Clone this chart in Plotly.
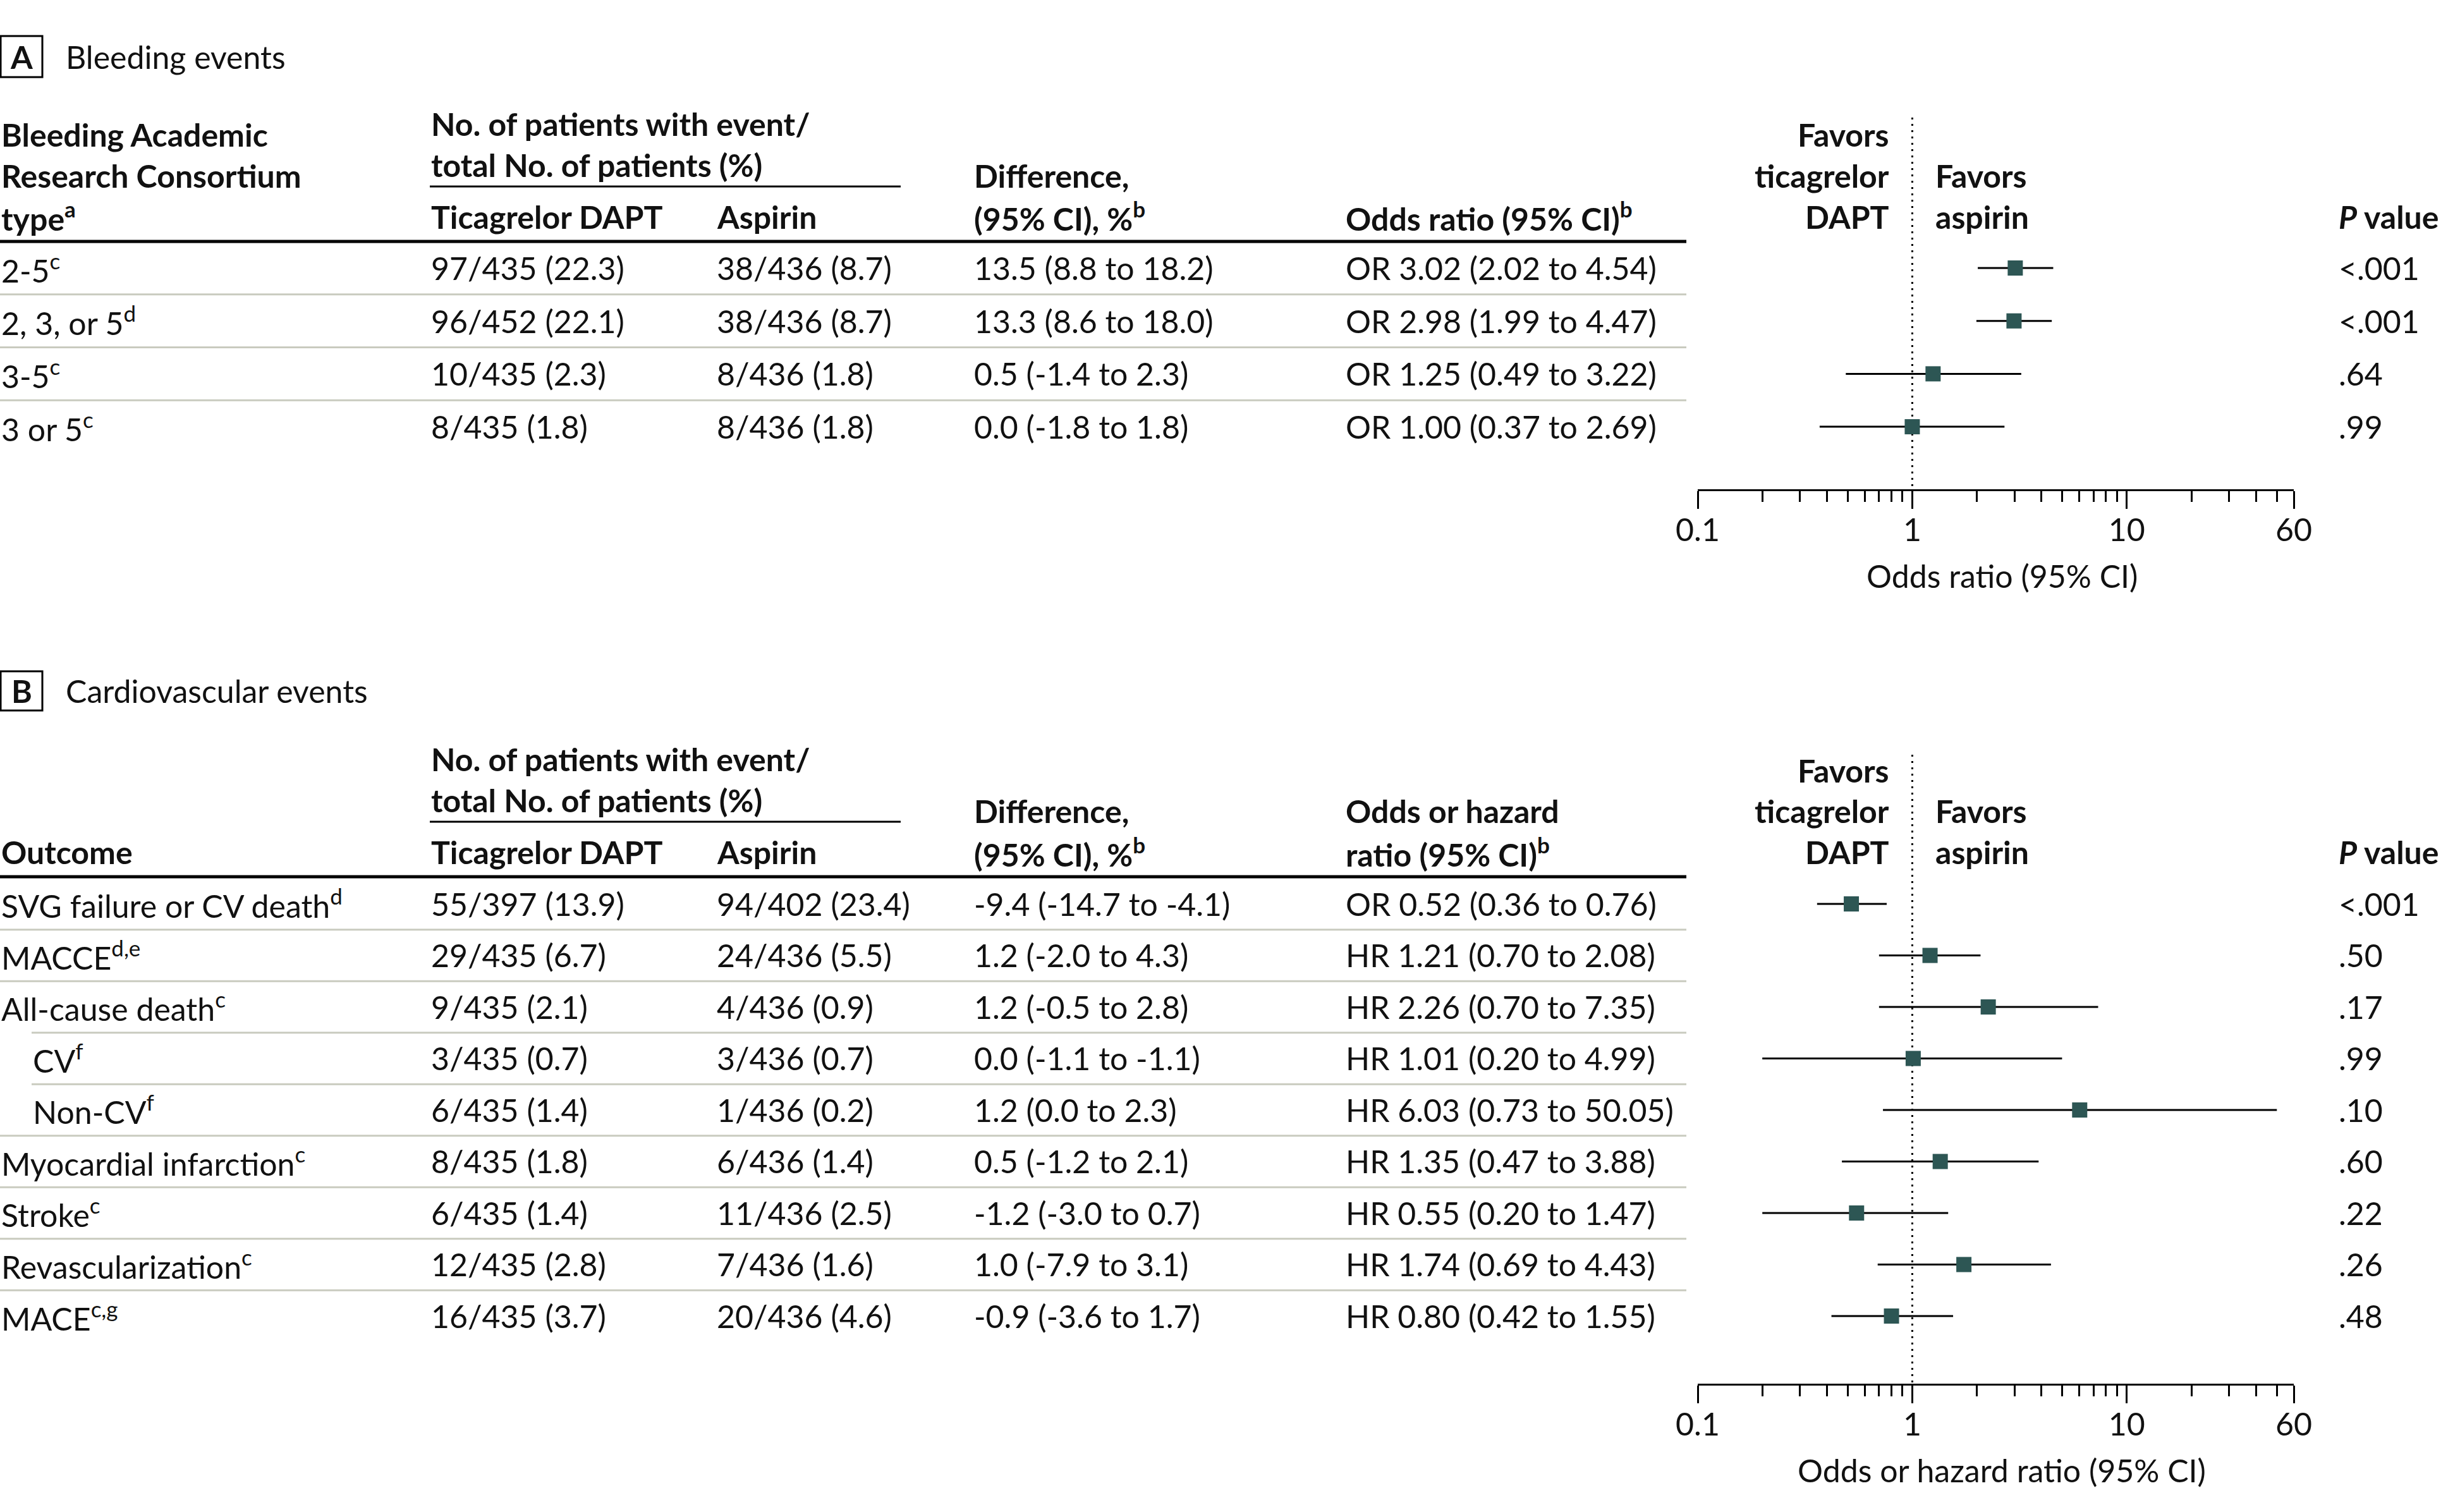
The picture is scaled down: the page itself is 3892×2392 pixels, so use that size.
import plotly.graph_objects as go

W, H = 3892, 2392
FONT = "Lato"
FS = 50
TXT = "#111111"
MARK = "#2d5654"
SEP = "#c9cbbf"

# ---------------- Data: Panel A (bleeding) ----------------
labels_a = ["2-5<sup>c</sup>", "2, 3, or 5<sup>d</sup>", "3-5<sup>c</sup>", "3 or 5<sup>c</sup>"]
indent_a = [0, 0, 0, 0]
tica_a = ["97/435 (22.3)", "96/452 (22.1)", "10/435 (2.3)", "8/435 (1.8)"]
asp_a = ["38/436 (8.7)", "38/436 (8.7)", "8/436 (1.8)", "8/436 (1.8)"]
diff_a = ["13.5 (8.8 to 18.2)", "13.3 (8.6 to 18.0)", "0.5 (-1.4 to 2.3)", "0.0 (-1.8 to 1.8)"]
type_a = ["OR", "OR", "OR", "OR"]
est_a = [3.02, 2.98, 1.25, 1.00]
lo_a = [2.02, 1.99, 0.49, 0.37]
hi_a = [4.54, 4.47, 3.22, 2.69]
p_a = ["<.001", "<.001", ".64", ".99"]

# ---------------- Data: Panel B (cardiovascular) ----------------
labels_b = ["SVG failure or CV death<sup>d</sup>", "MACCE<sup>d,e</sup>", "All-cause death<sup>c</sup>",
            "CV<sup>f</sup>", "Non-CV<sup>f</sup>", "Myocardial infarction<sup>c</sup>",
            "Stroke<sup>c</sup>", "Revascularization<sup>c</sup>", "MACE<sup>c,g</sup>"]
indent_b = [0, 0, 0, 1, 1, 0, 0, 0, 0]
tica_b = ["55/397 (13.9)", "29/435 (6.7)", "9/435 (2.1)", "3/435 (0.7)", "6/435 (1.4)",
          "8/435 (1.8)", "6/435 (1.4)", "12/435 (2.8)", "16/435 (3.7)"]
asp_b = ["94/402 (23.4)", "24/436 (5.5)", "4/436 (0.9)", "3/436 (0.7)", "1/436 (0.2)",
         "6/436 (1.4)", "11/436 (2.5)", "7/436 (1.6)", "20/436 (4.6)"]
diff_b = ["-9.4 (-14.7 to -4.1)", "1.2 (-2.0 to 4.3)", "1.2 (-0.5 to 2.8)", "0.0 (-1.1 to -1.1)",
          "1.2 (0.0 to 2.3)", "0.5 (-1.2 to 2.1)", "-1.2 (-3.0 to 0.7)", "1.0 (-7.9 to 3.1)",
          "-0.9 (-3.6 to 1.7)"]
type_b = ["OR", "HR", "HR", "HR", "HR", "HR", "HR", "HR", "HR"]
est_b = [0.52, 1.21, 2.26, 1.01, 6.03, 1.35, 0.55, 1.74, 0.80]
lo_b = [0.36, 0.70, 0.70, 0.20, 0.73, 0.47, 0.20, 0.69, 0.42]
hi_b = [0.76, 2.08, 7.35, 4.99, 50.05, 3.88, 1.47, 4.43, 1.55]
p_b = ["<.001", ".50", ".17", ".99", ".10", ".60", ".22", ".26", ".48"]

# axis ticks
tick_vals = [0.1, 1, 10, 60]
tick_text = ["0.1", "1", "10", "60"]
minor_vals = [0.2, 0.3, 0.4, 0.5, 0.6, 0.7, 0.8, 0.9, 2, 3, 4, 5, 6, 7, 8, 9, 20, 30, 40, 50]
ref_value = 1

# ---------------- Layout geometry (pixels) ----------------
def px(x):
    return x / W

def py(y):
    return 1 - y / H

COL_LABEL = 0
COL_INDENT = 50
COL_TICA = 680
COL_ASP = 1132
COL_DIFF = 1539
COL_RATIO = 2127
COL_FAV_L = 2991
COL_FAV_R = 3060
COL_P = 3698
TABLE_RIGHT = 2668
AX_LEFT, AX_RIGHT = 2686, 3629
AX_CENTER = 3167

panels = [
    dict(key="A", title="Bleeding events", box=(1, 57, 67, 122), row0=424, step=83.7,
         dot_top=186, axis_y=774, axis_title="Odds ratio (95% CI)", axis_title_y=911,
         rule=382, underline=295, xa="x", ya="y",
         labels=labels_a, indent=indent_a, tica=tica_a, asp=asp_a, diff=diff_a,
         typ=type_a, est=est_a, lo=lo_a, hi=hi_a, p=p_a,
         header=[("Bleeding Academic", COL_LABEL, 213, "left"),
                 ("Research Consortium", COL_LABEL, 278, "left"),
                 ("type<sup>a</sup>", COL_LABEL, 343, "left"),
                 ("No. of patients with event/", COL_TICA, 196, "left"),
                 ("total No. of patients (%)", COL_TICA, 261, "left"),
                 ("Ticagrelor DAPT", COL_TICA, 343, "left"),
                 ("Aspirin", COL_ASP, 343, "left"),
                 ("Difference,", COL_DIFF, 278, "left"),
                 ("(95% CI), %<sup>b</sup>", COL_DIFF, 343, "left"),
                 ("Odds ratio (95% CI)<sup>b</sup>", COL_RATIO, 343, "left"),
                 ("Favors", COL_FAV_L, 213, "right"),
                 ("ticagrelor", COL_FAV_L, 278, "right"),
                 ("DAPT", COL_FAV_L, 343, "right"),
                 ("Favors", COL_FAV_R, 278, "left"),
                 ("aspirin", COL_FAV_R, 343, "left"),
                 ("<i>P</i> value", COL_P, 343, "left")]),
    dict(key="B", title="Cardiovascular events", box=(1, 1062, 67, 1124), row0=1430, step=81.5,
         dot_top=1194, axis_y=2189, axis_title="Odds or hazard ratio (95% CI)", axis_title_y=2326,
         rule=1387, underline=1300, xa="x2", ya="y2",
         labels=labels_b, indent=indent_b, tica=tica_b, asp=asp_b, diff=diff_b,
         typ=type_b, est=est_b, lo=lo_b, hi=hi_b, p=p_b,
         header=[("Outcome", COL_LABEL, 1348, "left"),
                 ("No. of patients with event/", COL_TICA, 1201, "left"),
                 ("total No. of patients (%)", COL_TICA, 1266, "left"),
                 ("Ticagrelor DAPT", COL_TICA, 1348, "left"),
                 ("Aspirin", COL_ASP, 1348, "left"),
                 ("Difference,", COL_DIFF, 1283, "left"),
                 ("(95% CI), %<sup>b</sup>", COL_DIFF, 1348, "left"),
                 ("Odds or hazard", COL_RATIO, 1283, "left"),
                 ("ratio (95% CI)<sup>b</sup>", COL_RATIO, 1348, "left"),
                 ("Favors", COL_FAV_L, 1219, "right"),
                 ("ticagrelor", COL_FAV_L, 1283, "right"),
                 ("DAPT", COL_FAV_L, 1348, "right"),
                 ("Favors", COL_FAV_R, 1283, "left"),
                 ("aspirin", COL_FAV_R, 1348, "left"),
                 ("<i>P</i> value", COL_P, 1348, "left")]),
]

fig = go.Figure()
annotations = []
shapes = []
layout_axes = {}

for pn in panels:
    n = len(pn["labels"])
    rows = list(range(n))
    xa, ya = pn["xa"], pn["ya"]
    yname = "yaxis" if ya == "y" else "yaxis2"
    xname = "xaxis" if xa == "x" else "xaxis2"
    y_bot = (pn["axis_y"] - pn["row0"]) / pn["step"]
    y_top = (pn["dot_top"] - pn["row0"]) / pn["step"]
    layout_axes[yname] = dict(domain=[py(pn["axis_y"]), py(pn["dot_top"])], range=[y_bot, y_top],
                              visible=False, fixedrange=True, automargin=False,
                              anchor=xa)
    layout_axes[xname] = dict(domain=[px(AX_LEFT), px(AX_RIGHT)], type="log",
                              range=[-1, 1.7781513], anchor=ya, automargin=False,
                              showline=True, linecolor="black", linewidth=3,
                              ticks="outside", ticklen=28, tickwidth=3, tickcolor="black",
                              tickvals=tick_vals, ticktext=tick_text, ticklabelstandoff=-9,
                              minor=dict(tickvals=minor_vals, ticks="outside", ticklen=17,
                                         tickwidth=3, tickcolor="black", showgrid=False),
                              showgrid=False, zeroline=False, fixedrange=True,
                              tickfont=dict(family=FONT, size=FS, color=TXT))

    # reference dotted line
    fig.add_trace(go.Scatter(x=[ref_value, ref_value], y=[y_top, y_bot], mode="lines",
                             line=dict(color="black", width=3, dash="3px,7px"),
                             xaxis=xa, yaxis=ya, hoverinfo="skip"))
    # CI lines
    cx, cy = [], []
    for i in rows:
        cx += [pn["lo"][i], pn["hi"][i], None]
        cy += [i, i, None]
    fig.add_trace(go.Scatter(x=cx, y=cy, mode="lines", line=dict(color="black", width=3),
                             xaxis=xa, yaxis=ya, hoverinfo="skip"))
    # point estimates
    fig.add_trace(go.Scatter(x=pn["est"], y=rows, mode="markers",
                             marker=dict(symbol="square", size=24, color=MARK, line=dict(width=0)),
                             xaxis=xa, yaxis=ya))

    # panel title box
    x0, y0, x1, y1 = pn["box"]
    shapes.append(dict(type="rect", xref="paper", yref="paper", x0=px(x0), x1=px(x1),
                       y0=py(y1), y1=py(y0), line=dict(color="black", width=3)))
    annotations.append(dict(text="<b>" + pn["key"] + "</b>", xref="paper", yref="paper",
                            x=px((x0 + x1) / 2), y=py((y0 + y1) / 2), xanchor="center",
                            yanchor="middle", showarrow=False,
                            font=dict(family=FONT, size=FS, color=TXT)))
    annotations.append(dict(text=pn["title"], xref="paper", yref="paper", x=px(102),
                            y=py((y0 + y1) / 2), xanchor="left", yanchor="middle",
                            showarrow=False, font=dict(family=FONT, size=FS, color=TXT)))
    # header
    for txt, hx, hy, anc in pn["header"]:
        annotations.append(dict(text="<b>" + txt + "</b>", xref="paper", yref="paper",
                                x=px(hx), y=py(hy), xanchor=anc, yanchor="middle",
                                showarrow=False, font=dict(family=FONT, size=FS, color=TXT)))
    # rules
    shapes.append(dict(type="line", xref="paper", yref="paper", x0=px(COL_TICA), x1=px(1425),
                       y0=py(pn["underline"]), y1=py(pn["underline"]),
                       line=dict(color="black", width=3)))
    shapes.append(dict(type="line", xref="paper", yref="paper", x0=0, x1=px(TABLE_RIGHT),
                       y0=py(pn["rule"]), y1=py(pn["rule"]), line=dict(color="black", width=5)))
    # row separators
    for i in rows[:-1]:
        xs = COL_INDENT if pn["indent"][i + 1] else 0
        shapes.append(dict(type="line", xref="paper", yref=ya, x0=px(xs), x1=px(TABLE_RIGHT),
                           y0=i + 0.5, y1=i + 0.5, line=dict(color=SEP, width=3)))
    # row text
    for i in rows:
        ratio = "%s %.2f (%.2f to %.2f)" % (pn["typ"][i], pn["est"][i], pn["lo"][i], pn["hi"][i])
        cells = [(pn["labels"][i], COL_INDENT if pn["indent"][i] else COL_LABEL),
                 (pn["tica"][i], COL_TICA), (pn["asp"][i], COL_ASP),
                 (pn["diff"][i], COL_DIFF), (ratio, COL_RATIO), (pn["p"][i], COL_P)]
        for txt, cxp in cells:
            annotations.append(dict(text=txt, xref="paper", yref=ya, x=px(cxp), y=i,
                                    xanchor="left", yanchor="middle", showarrow=False,
                                    font=dict(family=FONT, size=FS, color=TXT)))
    # axis title
    annotations.append(dict(text=pn["axis_title"], xref="paper", yref="paper", x=px(AX_CENTER),
                            y=py(pn["axis_title_y"]), xanchor="center", yanchor="middle",
                            showarrow=False, font=dict(family=FONT, size=FS, color=TXT)))

fig.update_layout(width=W, height=H, margin=dict(l=0, r=0, t=0, b=0, pad=0, autoexpand=False),
                  paper_bgcolor="white", plot_bgcolor="white", showlegend=False,
                  template="none",
                  annotations=annotations, shapes=shapes,
                  font=dict(family=FONT, size=FS, color=TXT), **layout_axes)

fig.write_html("out.html", config={"displayModeBar": False},
               post_script="document.body.style.margin='0';")
